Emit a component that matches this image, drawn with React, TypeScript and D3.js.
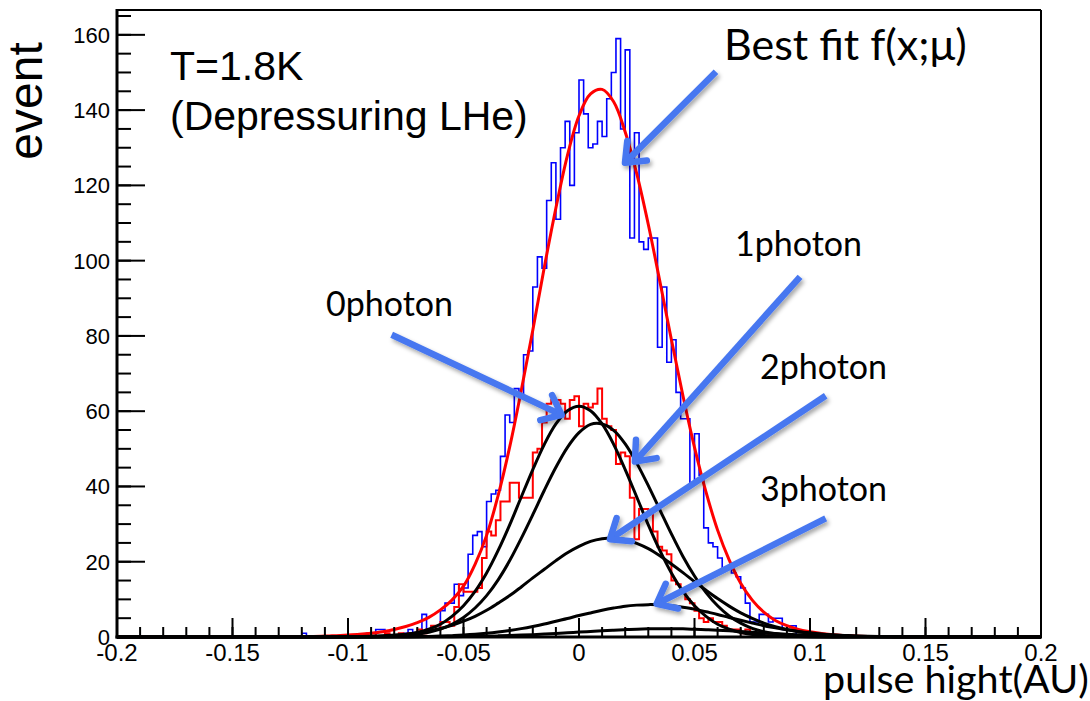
import React from "react";
import * as d3 from "d3";

// ---------- data ----------
const X_DOMAIN: [number, number] = [-0.2, 0.2];
const Y_DOMAIN: [number, number] = [0, 166.6];
const BIN_WIDTH = 0.002;

const xMajorTicks = [-0.2, -0.15, -0.1, -0.05, 0, 0.05, 0.1, 0.15, 0.2];
const xTickLabels = ["-0.2", "-0.15", "-0.1", "-0.05", "0", "0.05", "0.1", "0.15", "0.2"];
const yMajorTicks = [0, 20, 40, 60, 80, 100, 120, 140, 160];
const yTickLabels = ["0", "20", "40", "60", "80", "100", "120", "140", "160"];

// blue histogram (all events), first bin starts at -0.12
const BLUE_FIRST_BIN = -0.12;
const blueCounts = [
  1, 0, 0, 0, 0, 0, 0, 0, 0, 0, 0, 0, 0, 0, 1, 0, 2, 2, 0, 0,
  0, 0, 1, 2, 1, 1, 6, 2, 3, 3,
  7, 9, 9, 14, 11, 13, 22, 27, 28, 24,
  36, 38, 39, 48, 59, 57, 66, 64, 75, 76,
  93, 101, 98, 116, 126, 111, 130, 137, 120, 134,
  148, 139, 130, 131, 137, 133, 143, 150, 159, 135,
  156, 106, 134, 105, 103, 106, 106, 77, 93, 73,
  79, 65, 58, 58, 41, 54, 43, 29, 25, 24,
  21, 18, 18, 17, 16, 13, 9, 4, 4, 6,
  6, 4, 5, 5, 2, 3, 3, 0, 0, 0,
];

// red histogram (0 photon / pedestal), first bin starts at -0.09
const RED_FIRST_BIN = -0.09;
const redCounts = [
  1, 0, 0, 1, 0,
  0, 1, 0, 1, 1, 2, 1, 2, 3, 2,
  4, 4, 3, 8, 14, 12, 12, 12, 13, 21,
  28, 27, 31, 36, 36, 41, 41, 37, 37, 37,
  49, 50, 57, 62, 63, 63, 62, 58, 63, 64,
  56, 62, 61, 62, 66, 58, 56, 55, 46, 49,
  48, 37, 26, 34, 34, 33, 28, 24, 23, 22,
  15, 14, 12, 10, 9, 7, 5, 4, 5, 4,
  4, 3, 2, 2, 2, 1, 2, 1, 0, 1,
  0, 1,
];

// sample positions of the fitted curves
const curveX = [
  -0.12, -0.115, -0.11, -0.105, -0.1, -0.095, -0.09, -0.085, -0.08, -0.075,
  -0.07, -0.065, -0.06, -0.055, -0.05, -0.045, -0.04, -0.035, -0.03, -0.025,
  -0.02, -0.015, -0.01, -0.005, 0, 0.005, 0.01, 0.015, 0.02, 0.025,
  0.03, 0.035, 0.04, 0.045, 0.05, 0.055, 0.06, 0.065, 0.07, 0.075,
  0.08, 0.085, 0.09, 0.095, 0.1, 0.105, 0.11, 0.115, 0.12, 0.125,
  0.13, 0.135, 0.14,
];
const fitTotal = [
  0.1, 0.15, 0.25, 0.35, 0.5, 0.7, 1.0, 1.4, 2.0, 2.8,
  3.8, 5.2, 7.2, 9.8, 13.5, 19.3, 27, 37.6, 50.5, 65.5,
  81.5, 98.3, 114, 128, 138.5, 144.3, 145.5, 142.2, 134.2, 123.1,
  109.6, 94.5, 79, 64.1, 50.4, 38.5, 28.4, 20.5, 14.3, 9.8,
  6.6, 4.4, 3.0, 2.0, 1.4, 0.95, 0.6, 0.4, 0.25, 0.15,
  0.1, 0.06, 0.04,
];
const photon0 = [
  0, 0, 0, 0, 0.02, 0.045, 0.09, 0.19, 0.37, 0.68,
  1.2, 2.1, 3.4, 5.5, 8.3, 12.1, 17.0, 23.0, 29.8, 37.2,
  44.5, 51.2, 56.6, 60.1, 61.3, 60.1, 56.6, 51.2, 44.5, 37.2,
  29.8, 23.0, 17.0, 12.1, 8.3, 5.5, 3.4, 2.1, 1.2, 0.68,
  0.37, 0.19, 0.09, 0.045, 0.02, 0, 0, 0, 0, 0,
  0, 0, 0,
];
const photon1 = [
  0, 0, 0, 0, 0.01, 0.03, 0.06, 0.12, 0.23, 0.42,
  0.75, 1.28, 2.1, 3.37, 5.2, 7.7, 11.0, 15.2, 20.3, 26.2,
  32.5, 39.0, 45.1, 50.4, 54.3, 56.5, 56.6, 54.9, 51.3, 46.2,
  40.2, 33.8, 27.4, 21.4, 16.2, 11.8, 8.3, 5.6, 3.7, 2.3,
  1.42, 0.84, 0.47, 0.26, 0.14, 0.07, 0.03, 0.01, 0, 0,
  0, 0, 0,
];
const photon2 = [
  0.01, 0.015, 0.026, 0.046, 0.08, 0.13, 0.2, 0.33, 0.5, 0.75,
  1.1, 1.6, 2.26, 3.1, 4.2, 5.5, 7.1, 9.0, 11.0, 13.3,
  15.7, 18.0, 20.3, 22.4, 24.1, 25.4, 26.1, 26.3, 25.9, 24.9,
  23.5, 21.6, 19.4, 17.1, 14.7, 12.4, 10.2, 8.2, 6.4, 4.97,
  3.7, 2.74, 2.0, 1.39, 0.95, 0.64, 0.42, 0.27, 0.17, 0.1,
  0.06, 0.04, 0.02,
];
const photon3 = [
  0, 0, 0, 0, 0.005, 0.01, 0.015, 0.025, 0.04, 0.066,
  0.1, 0.16, 0.24, 0.35, 0.5, 0.7, 0.97, 1.31, 1.72, 2.22,
  2.8, 3.45, 4.2, 4.9, 5.7, 6.4, 7.1, 7.7, 8.2, 8.47,
  8.6, 8.54, 8.3, 7.9, 7.4, 6.7, 6.0, 5.2, 4.45, 3.72,
  3.0, 2.44, 1.9, 1.46, 1.1, 0.8, 0.58, 0.41, 0.28, 0.19,
  0.12, 0.08, 0.05,
];
const photon4 = [
  0, 0, 0, 0, 0.005, 0.007, 0.008, 0.01, 0.011, 0.018,
  0.026, 0.04, 0.06, 0.085, 0.12, 0.165, 0.22, 0.3, 0.39, 0.5,
  0.63, 0.78, 0.94, 1.12, 1.3, 1.48, 1.66, 1.82, 1.97, 2.08,
  2.16, 2.19, 2.2, 2.16, 2.06, 1.95, 1.8, 1.63, 1.44, 1.26,
  1.08, 0.91, 0.75, 0.61, 0.48, 0.37, 0.28, 0.21, 0.15, 0.1,
  0.07, 0.05, 0.04,
];

// annotation labels and arrows (data coordinates)
const annotationLabels = ["Best fit f(x;\u03bc)", "1photon", "0photon", "2photon", "3photon"];
const arrowFromX = [0.0593, 0.0957, -0.0811, 0.1068, 0.1068];
const arrowFromY = [150.2, 95.7, 80.3, 64.1, 31.5];
const arrowToX = [0.0199, 0.0242, -0.0075, 0.0134, 0.0336];
const arrowToY = [126.0, 46.6, 59.0, 26.0, 8.8];

// ---------- component ----------
export default function App() {
  const W = 1090;
  const H = 701;
  const left = 117;
  const right = 1041;
  const top = 10;
  const bottom = 637;

  const x = d3.scaleLinear().domain(X_DOMAIN).range([left, right]);
  const y = d3.scaleLinear().domain(Y_DOMAIN).range([bottom, top]);

  const histPath = (first: number, counts: number[]) => {
    let d = `M${x(first)},${y(0)}`;
    counts.forEach((c, i) => {
      const x1 = x(first + (i + 1) * BIN_WIDTH);
      d += `V${y(c)}H${x1}`;
    });
    d += `V${y(0)}`;
    return d;
  };

  const line = d3
    .line<[number, number]>()
    .x((d) => x(d[0]))
    .y((d) => y(d[1]))
    .curve(d3.curveCatmullRom.alpha(0.5));

  const curvePts = (vals: number[]): [number, number][] => [
    [X_DOMAIN[0], 0],
    ...curveX.map((cx, i) => [cx, vals[i]] as [number, number]),
    [X_DOMAIN[1], 0],
  ];

  const xMinor = d3.range(-0.2, 0.2001, 0.01);
  const yMinor = d3.range(0, 166, 5);

  const arrowColor = "#4677F0";
  const labelX = [724, 735, 326, 760, 760];
  const labelY = [60, 256, 316, 379, 501];
  const labelSize = [43, 34, 34, 34, 34];

  return (
    <svg
      width={W}
      height={H}
      style={{ position: "absolute", left: 0, top: 0, background: "#fff" }}
    >
      <defs>
        <filter id="shadow" x="-20%" y="-20%" width="140%" height="140%">
          <feDropShadow dx="2" dy="3" stdDeviation="2" floodColor="#000" floodOpacity="0.35" />
        </filter>
      </defs>

      {/* histograms */}
      <path d={histPath(BLUE_FIRST_BIN, blueCounts)} fill="none" stroke="#0000ff" strokeWidth={1.6} />
      <path d={histPath(RED_FIRST_BIN, redCounts)} fill="none" stroke="#ff0000" strokeWidth={2} />

      {/* fit */}
      <path d={line(curvePts(fitTotal)) || ""} fill="none" stroke="#ff0000" strokeWidth={3} />
      {[photon0, photon1, photon2, photon3, photon4].map((c, i) => (
        <path key={i} d={line(curvePts(c)) || ""} fill="none" stroke="#000" strokeWidth={3} />
      ))}

      {/* frame */}
      <line x1={left} x2={right} y1={top} y2={top} stroke="#000" strokeWidth={2} />
      <line x1={right} x2={right} y1={top} y2={bottom} stroke="#000" strokeWidth={2} />
      <line x1={left} x2={left} y1={top - 1} y2={bottom + 1.5} stroke="#000" strokeWidth={3} />
      <line x1={left - 1.5} x2={right + 1} y1={bottom} y2={bottom} stroke="#000" strokeWidth={3} />

      {/* y ticks */}
      {yMinor.map((v) => (
        <line key={"ym" + v} x1={left} x2={left + 14} y1={y(v)} y2={y(v)} stroke="#000" strokeWidth={2} />
      ))}
      {yMajorTicks.map((v, i) => (
        <g key={"yM" + v}>
          <line x1={left} x2={left + 28} y1={y(v)} y2={y(v)} stroke="#000" strokeWidth={2} />
          <text
            x={left - 7}
            y={y(v) + 8}
            textAnchor="end"
            fontFamily="'Liberation Sans', Arial, sans-serif"
            fontSize={22}
          >
            {yTickLabels[i]}
          </text>
        </g>
      ))}

      {/* x ticks */}
      {xMinor.map((v, i) => (
        <line key={"xm" + i} x1={x(v)} x2={x(v)} y1={bottom} y2={bottom - 10} stroke="#000" strokeWidth={2} />
      ))}
      {xMajorTicks.map((v, i) => (
        <g key={"xM" + v}>
          <line x1={x(v)} x2={x(v)} y1={bottom} y2={bottom - 19} stroke="#000" strokeWidth={2} />
          <text
            x={x(v)}
            y={661}
            textAnchor="middle"
            fontFamily="'Liberation Sans', Arial, sans-serif"
            fontSize={24}
          >
            {xTickLabels[i]}
          </text>
        </g>
      ))}

      {/* axis titles */}
      <text
        transform="translate(42,101) rotate(-90)"
        textAnchor="middle"
        fontFamily="'Liberation Sans', Arial, sans-serif"
        fontSize={48}
      >
        event
      </text>
      <text x={823} y={693} fontFamily="Lato, 'Open Sans', sans-serif" fontSize={39.5}>
        pulse hight(AU)
      </text>

      {/* condition text */}
      <text x={170} y={80} fontFamily="'Liberation Sans', Arial, sans-serif" fontSize={41}>
        T=1.8K
      </text>
      <text x={170} y={130} fontFamily="'Liberation Sans', Arial, sans-serif" fontSize={41}>
        (Depressuring LHe)
      </text>

      {/* arrows */}
      {arrowFromX.map((fx, i) => {
        const x0 = x(fx);
        const y0 = y(arrowFromY[i]);
        const x1 = x(arrowToX[i]);
        const y1 = y(arrowToY[i]);
        const ang = Math.atan2(y1 - y0, x1 - x0);
        const L = 22;
        const s = 0.68;
        const p1 = [x1 - L * Math.cos(ang - s), y1 - L * Math.sin(ang - s)];
        const p2 = [x1 - L * Math.cos(ang + s), y1 - L * Math.sin(ang + s)];
        return (
          <g key={"ar" + i} filter="url(#shadow)">
            <line x1={x0} y1={y0} x2={x1 - 2 * Math.cos(ang)} y2={y1 - 2 * Math.sin(ang)} stroke={arrowColor} strokeWidth={6.5} />
            <path
              d={`M${p1[0]},${p1[1]}L${x1},${y1}L${p2[0]},${p2[1]}`}
              fill="none"
              stroke={arrowColor}
              strokeWidth={6.5}
              strokeLinejoin="round"
              strokeLinecap="round"
            />
          </g>
        );
      })}

      {/* annotation labels */}
      {annotationLabels.map((t, i) => (
        <text
          key={"lb" + i}
          x={labelX[i]}
          y={labelY[i]}
          fontFamily="Lato, 'Open Sans', sans-serif"
          fontSize={labelSize[i]}
        >
          {t}
        </text>
      ))}
    </svg>
  );
}
